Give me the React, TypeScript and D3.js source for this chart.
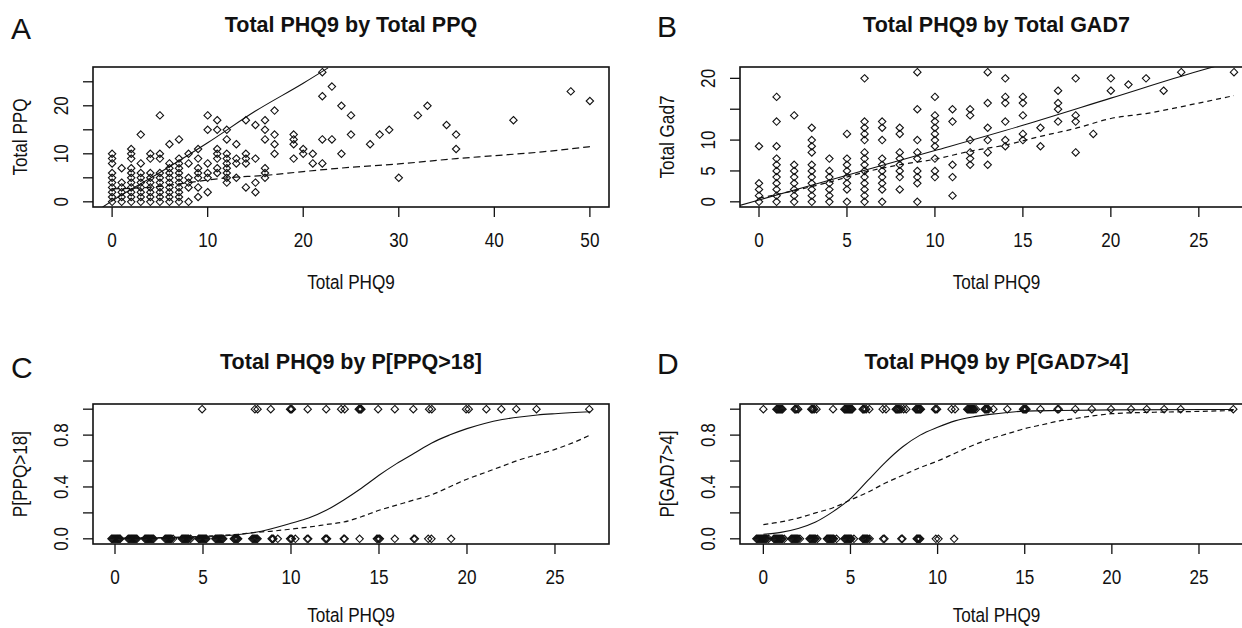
import React from 'react';
import * as d3 from 'd3';

const W = 1242;
const H = 628;
const FONT = "'Liberation Sans', Arial, Helvetica, sans-serif";

// ---------- Panel A: Total PHQ9 (x) by Total PPQ (y) ----------
const ppqByPhq: [number, number[]][] = [
  [0, [0, 1, 2, 3, 4, 5, 6, 8, 9, 10]],
  [1, [0, 1, 2, 3, 4, 7]],
  [2, [0, 1, 2, 3, 4, 5, 6, 7, 9, 10, 11]],
  [3, [0, 1, 2, 3, 4, 5, 6, 8, 14]],
  [4, [0, 1, 2, 3, 4, 5, 6, 9, 10]],
  [5, [0, 1, 2, 3, 4, 5, 6, 9, 10, 18]],
  [6, [0, 1, 2, 3, 4, 5, 6, 7, 8, 12]],
  [7, [0, 1, 2, 3, 4, 5, 6, 7, 8, 9, 13]],
  [8, [0, 3, 4, 5, 8, 10]],
  [9, [1, 3, 5, 6, 7, 9, 11]],
  [10, [2, 5, 6, 8, 15, 18]],
  [11, [6, 7, 9, 10, 11, 15, 17]],
  [12, [4, 5, 6, 7, 8, 9, 10, 13, 15]],
  [13, [5, 8, 9, 12]],
  [14, [3, 8, 9, 10, 17]],
  [15, [2, 4, 9, 16]],
  [16, [5, 6, 7, 13, 15, 17]],
  [17, [10, 12, 14, 19]],
  [19, [9, 12, 13, 14]],
  [20, [10, 11]],
  [21, [8, 10]],
  [22, [8, 13, 22, 27]],
  [23, [13, 24]],
  [24, [10, 20]],
  [25, [14, 18]],
  [27, [12]],
  [28, [14]],
  [29, [15]],
  [30, [5]],
  [32, [18]],
  [33, [20]],
  [35, [16]],
  [36, [11, 14]],
  [42, [17]],
  [48, [23]],
  [50, [21]],
];
const ppqFitSolid: [number, number][] = [
  [-1, -1.1], [0, 0.2], [5, 6.1], [10, 12.3], [15, 18.9], [20, 24.7], [22.6, 27.9],
];
const ppqFitDashed: [number, number][] = [
  [0, 2.7], [5, 3.2], [8, 4.0], [12, 5.0], [16, 5.5], [20, 6.3], [25, 7.2],
  [30, 7.9], [36, 9.0], [40, 9.6], [45, 10.4], [50, 11.5],
];
const xTicksA = [0, 10, 20, 30, 40, 50];
const yTicksA = [0, 5, 10, 15, 20, 25];
const yLabelsA = [0, 10, 20];

// ---------- Panel B: Total PHQ9 (x) by Total GAD7 (y) ----------
const gadByPhq: [number, number[]][] = [
  [0, [0, 1, 2, 3, 9]],
  [1, [0, 1, 2, 3, 4, 5, 6, 7, 9, 13, 17]],
  [2, [0, 1, 2, 3, 4, 5, 6, 14]],
  [3, [0, 1, 2, 3, 4, 5, 6, 8, 9, 10, 12]],
  [4, [0, 1, 2, 3, 4, 5, 7]],
  [5, [0, 2, 3, 4, 5, 6, 7, 11]],
  [6, [0, 1, 2, 3, 4, 5, 6, 7, 8, 10, 11, 12, 13, 20]],
  [7, [0, 2, 3, 4, 5, 6, 7, 10, 12, 13]],
  [8, [2, 4, 5, 6, 7, 8, 11, 12]],
  [9, [0, 3, 4, 5, 7, 8, 10, 15, 21]],
  [10, [4, 5, 7, 9, 10, 11, 12, 13, 14, 17]],
  [11, [1, 4, 6, 13, 15]],
  [12, [6, 7, 8, 10, 14, 15]],
  [13, [6, 8, 10, 12, 16, 21]],
  [14, [9, 10, 13, 16, 17, 20]],
  [15, [10, 11, 14, 16, 17]],
  [16, [9, 12]],
  [17, [13, 15, 16, 18]],
  [18, [8, 13, 14, 20]],
  [19, [11]],
  [20, [18, 20]],
  [21, [19]],
  [22, [20]],
  [23, [18]],
  [24, [21]],
  [27, [21]],
];
const gadFitSolid: [number, number][] = [
  [-1.1, -0.6], [0, 0.3], [5, 4.3], [10, 8.3], [15, 12.4], [20, 16.8], [25, 21.2], [26, 22],
];
const gadFitDashed: [number, number][] = [
  [0, 0.6], [2, 1.8], [4, 3.2], [6, 4.8], [8, 6.0], [10, 6.9], [12, 8.2], [14, 9.2],
  [16, 10.6], [18, 11.9], [20, 13.5], [22, 14.3], [25, 16.0], [27, 17.2],
];
const xTicksB = [0, 5, 10, 15, 20, 25];
const yTicksB = [0, 5, 10, 15, 20];
const yLabelsB = [0, 5, 10, 20];

// ---------- Panel C: Total PHQ9 by P[PPQ>18] (jittered x) ----------
const ppqHighX = [
  4.95, 7.95, 8.1, 8.85, 9.95, 10.0, 10.05, 10.95, 12.0, 12.85, 13.05,
  13.85, 13.9, 13.95, 14.0, 14.95, 15.9, 16.95, 17.85, 18.0, 19.95, 20.1,
  21.1, 21.95, 22.8, 23.95, 26.95,
];
const ppqLowX = [
  -0.2, -0.15, -0.1, -0.05, 0, 0.05, 0.1, 0.15, 0.2, 0.25, 0.3,
  0.75, 0.8, 0.85, 0.9, 0.95, 1.0, 1.05, 1.1, 1.15, 1.2, 1.25,
  1.7, 1.75, 1.8, 1.85, 1.9, 1.95, 2.0, 2.05, 2.1, 2.15, 2.2,
  2.85, 2.9, 2.95, 3.0, 3.05, 3.1, 3.15, 3.2, 3.3,
  3.8, 3.85, 3.9, 3.95, 4.0, 4.05, 4.1, 4.15, 4.2, 4.3,
  4.75, 4.8, 4.85, 4.9, 4.95, 5.0, 5.05, 5.1, 5.15, 5.2,
  5.7, 5.75, 5.8, 5.85, 5.9, 5.95, 6.0, 6.05, 6.1, 6.15,
  6.75, 6.8, 6.85, 6.9, 6.95, 7.0,
  7.8, 7.85, 7.9, 7.95, 8.0, 8.05, 8.1,
  8.9, 8.95, 9.0, 9.25,
  9.95, 10.0, 10.05, 10.25,
  10.92, 10.98,
  11.95, 12.0, 12.05,
  13.0, 13.05,
  13.9,
  14.88, 14.94, 15.0, 15.05,
  15.9,
  16.98, 17.04,
  17.8, 17.98,
  19.1,
];
const ppqProbSolid: [number, number][] = [
  [0, 0.003], [2, 0.005], [4, 0.01], [6, 0.02], [8, 0.05], [10, 0.12], [11, 0.16],
  [12, 0.22], [13, 0.3], [14, 0.39], [15, 0.49], [16, 0.58], [17, 0.66], [18, 0.74],
  [19, 0.8], [20, 0.85], [21, 0.89], [22, 0.92], [23, 0.94], [24, 0.955], [25, 0.965],
  [27, 0.98],
];
const ppqProbDashed: [number, number][] = [
  [0, 0.005], [3, 0.01], [5, 0.02], [7, 0.035], [8, 0.05], [9, 0.06], [10, 0.075],
  [11, 0.09], [12, 0.11], [13, 0.13], [14, 0.17], [15, 0.22], [16, 0.26], [17, 0.3],
  [18, 0.34], [19, 0.4], [20, 0.46], [21, 0.51], [22, 0.56], [23, 0.61], [24, 0.65],
  [25, 0.69], [26, 0.74], [27, 0.8],
];

// ---------- Panel D: Total PHQ9 by P[GAD7>4] (jittered x) ----------
const gadHighX = [
  0.0,
  0.75, 0.8, 0.85, 0.9, 0.95, 1.0, 1.05, 1.1,
  1.8, 1.85, 1.92, 2.0,
  2.75, 2.8, 2.85, 2.92, 3.05,
  4.0,
  4.65, 4.7, 4.75, 4.8, 4.85, 4.9, 4.95, 5.0, 5.05, 5.1,
  5.7, 5.75, 5.82, 5.9, 6.08,
  6.85, 7.04,
  7.6, 7.65, 7.7, 7.75, 7.82, 7.9, 8.05, 8.2,
  8.75, 8.8, 8.85, 8.9, 8.95, 9.0, 9.04,
  9.85, 9.9, 9.97,
  10.8, 11.0,
  11.7, 11.75, 11.8, 11.85, 11.9, 11.95, 12.0, 12.05, 12.1, 12.2,
  12.7, 12.75, 12.8, 12.85, 12.92, 13.2,
  14.0,
  14.9, 14.95, 15.0, 15.05, 15.1,
  15.9,
  16.88, 16.95,
  17.9, 18.85, 19.95, 21.1, 22.0, 23.0, 23.95, 26.97,
];
const gadLowX = [
  -0.4, -0.35, -0.3, -0.25, -0.2, -0.15, -0.1, -0.05, 0, 0.05, 0.1, 0.15, 0.2, 0.3,
  0.6, 0.65, 0.7, 0.75, 0.8, 0.85, 0.9, 0.95, 1.0, 1.05, 1.1, 1.2,
  1.6, 1.65, 1.7, 1.75, 1.8, 1.85, 1.9, 1.95, 2.0, 2.1,
  2.65, 2.7, 2.75, 2.8, 2.85, 2.9, 2.95, 3.0, 3.1,
  3.65, 3.7, 3.75, 3.8, 3.85, 3.9, 3.95, 4.0, 4.05, 4.2,
  4.65, 4.7, 4.75, 4.8, 4.85, 4.9, 4.95, 5.0, 5.05, 5.2,
  5.7, 5.75, 5.8, 5.85, 5.9, 5.95, 6.0, 6.1,
  6.88, 6.95,
  7.92, 7.98,
  8.8, 8.85, 8.9, 8.95, 9.0,
  9.9, 10.05,
  10.95,
];
const gadProbSolid: [number, number][] = [
  [0, 0.035], [1, 0.05], [2, 0.08], [3, 0.13], [4, 0.21], [5, 0.31], [6, 0.45],
  [7, 0.59], [8, 0.71], [9, 0.8], [10, 0.86], [11, 0.91], [12, 0.94], [13, 0.96],
  [14, 0.975], [15, 0.985], [17, 0.99], [20, 0.995], [27, 0.998],
];
const gadProbDashed: [number, number][] = [
  [0, 0.11], [1, 0.13], [2, 0.16], [3, 0.2], [4, 0.24], [5, 0.3], [6, 0.36],
  [7, 0.43], [8, 0.49], [9, 0.55], [10, 0.6], [11, 0.66], [12, 0.72], [13, 0.77],
  [14, 0.81], [15, 0.85], [16, 0.88], [17, 0.91], [18, 0.93], [19, 0.95],
  [20, 0.965], [22, 0.975], [24, 0.98], [27, 0.99],
];
const xTicksP = [0, 5, 10, 15, 20, 25];
const yTicksP = [0, 0.2, 0.4, 0.6, 0.8, 1.0];
const yLabelsP = [0, 0.4, 0.8];

type Cfg = {
  id: string;
  letter: string;
  letterX: number;
  letterY: number;
  title: string;
  xlabel: string;
  ylabel: string;
  left: number;
  right: number;
  top: number;
  bottom: number;
  xLabelGap: number;
  xDomain: [number, number];
  yDomain: [number, number];
  xTicks: number[];
  yTicks: number[];
  yLabels: number[];
  yFmt: (v: number) => string;
  points: [number, number][];
  solid: [number, number][];
  dashed: [number, number][];
  dash: string;
};

const expand = (groups: [number, number[]][]): [number, number][] =>
  groups.flatMap(([x, ys]) => ys.map((y) => [x, y] as [number, number]));

const panels: Cfg[] = [
  {
    id: 'A', letter: 'A', letterX: 11, letterY: 39,
    title: 'Total PHQ9 by Total PPQ', xlabel: 'Total PHQ9', ylabel: 'Total PPQ',
    left: 93, right: 609, top: 67, bottom: 207, xLabelGap: 82,
    xDomain: [-2, 52], yDomain: [-1.08, 28.08],
    xTicks: xTicksA, yTicks: yTicksA, yLabels: yLabelsA, yFmt: (v) => String(v),
    points: expand(ppqByPhq), solid: ppqFitSolid, dashed: ppqFitDashed, dash: '7,4',
  },
  {
    id: 'B', letter: 'B', letterX: 657, letterY: 37,
    title: 'Total PHQ9 by Total GAD7', xlabel: 'Total PHQ9', ylabel: 'Total Gad7',
    left: 740, right: 1253, top: 67, bottom: 207, xLabelGap: 82,
    xDomain: [-1.08, 28.08], yDomain: [-0.84, 21.84],
    xTicks: xTicksB, yTicks: yTicksB, yLabels: yLabelsB, yFmt: (v) => String(v),
    points: expand(gadByPhq), solid: gadFitSolid, dashed: gadFitDashed, dash: '5,4',
  },
  {
    id: 'C', letter: 'C', letterX: 11, letterY: 378,
    title: 'Total PHQ9 by P[PPQ>18]', xlabel: 'Total PHQ9', ylabel: 'P[PPQ>18]',
    left: 93, right: 609, top: 404, bottom: 544, xLabelGap: 78,
    xDomain: [-1.25, 28.07], yDomain: [-0.04, 1.04],
    xTicks: xTicksP, yTicks: yTicksP, yLabels: yLabelsP, yFmt: (v) => v.toFixed(1),
    points: [
      ...ppqHighX.map((x) => [x, 1] as [number, number]),
      ...ppqLowX.map((x) => [x, 0] as [number, number]),
    ],
    solid: ppqProbSolid, dashed: ppqProbDashed, dash: '5,3.5',
  },
  {
    id: 'D', letter: 'D', letterX: 657, letterY: 374,
    title: 'Total PHQ9 by P[GAD7>4]', xlabel: 'Total PHQ9', ylabel: 'P[GAD7>4]',
    left: 740, right: 1253, top: 404, bottom: 544, xLabelGap: 78,
    xDomain: [-1.34, 28.1], yDomain: [-0.04, 1.04],
    xTicks: xTicksP, yTicks: yTicksP, yLabels: yLabelsP, yFmt: (v) => v.toFixed(1),
    points: [
      ...gadHighX.map((x) => [x, 1] as [number, number]),
      ...gadLowX.map((x) => [x, 0] as [number, number]),
    ],
    solid: gadProbSolid, dashed: gadProbDashed, dash: '5,3.5',
  },
];

const INK = '#111';
const R = 3.7;
const TICK = 10;
const LAB = 19.5; // axis label / tick font size
const SX = 0.88; // horizontal condensation of axis text

function Panel({ c }: { c: Cfg }) {
  const x = d3.scaleLinear().domain(c.xDomain).range([c.left, c.right]);
  const y = d3.scaleLinear().domain(c.yDomain).range([c.bottom, c.top]);
  const line = d3
    .line<[number, number]>()
    .x((d) => x(d[0]))
    .y((d) => y(d[1]))
    .curve(d3.curveMonotoneX);
  const cx = (c.left + c.right) / 2;
  const cy = (c.top + c.bottom) / 2;
  const diamond = (px: number, py: number) =>
    `M${px},${py - R}L${px + R},${py}L${px},${py + R}L${px - R},${py}Z`;
  return (
    <g>
      <defs>
        <clipPath id={`clip${c.id}`}>
          <rect x={c.left} y={c.top} width={c.right - c.left} height={c.bottom - c.top} />
        </clipPath>
      </defs>
      <text x={c.letterX} y={c.letterY} fontSize={30} fontFamily={FONT} fill={INK}>
        {c.letter}
      </text>
      <text x={cx} y={c.top - 35} fontSize={21.5} fontWeight="bold" fontFamily={FONT}
        textAnchor="middle" fill={INK}>
        {c.title}
      </text>
      <g clipPath={`url(#clip${c.id})`}>
        {c.points.map((p, i) => (
          <path key={i} d={diamond(x(p[0]), y(p[1]))} fill="none" stroke={INK} strokeWidth={1.1} />
        ))}
        <path d={line(c.solid) || ''} fill="none" stroke={INK} strokeWidth={1.1} />
        <path d={line(c.dashed) || ''} fill="none" stroke={INK} strokeWidth={1.2}
          strokeDasharray={c.dash} />
      </g>
      <rect x={c.left} y={c.top} width={c.right - c.left} height={c.bottom - c.top}
        fill="none" stroke={INK} strokeWidth={1.6} />
      {c.xTicks.map((t) => (
        <g key={`x${t}`}>
          <line x1={x(t)} x2={x(t)} y1={c.bottom} y2={c.bottom + TICK} stroke={INK} strokeWidth={1.3} />
          <text transform={`translate(${x(t)},${c.bottom + 40}) scale(${SX},1)`} fontSize={LAB}
            fontFamily={FONT} textAnchor="middle" fill={INK}>
            {t}
          </text>
        </g>
      ))}
      {c.yTicks.map((t) => (
        <g key={`y${t}`}>
          <line x1={c.left - TICK} x2={c.left} y1={y(t)} y2={y(t)} stroke={INK} strokeWidth={1.3} />
          {c.yLabels.some((l) => Math.abs(l - t) < 1e-9) && (
            <text transform={`translate(${c.left - 25},${y(t)}) rotate(-90) scale(${SX},1)`}
              fontSize={LAB} fontFamily={FONT} textAnchor="middle" fill={INK}>
              {c.yFmt(t)}
            </text>
          )}
        </g>
      ))}
      <text transform={`translate(${cx},${c.bottom + c.xLabelGap}) scale(${SX},1)`} fontSize={LAB}
        fontFamily={FONT} textAnchor="middle" fill={INK}>
        {c.xlabel}
      </text>
      <text transform={`translate(${c.left - 66},${cy}) rotate(-90) scale(${SX},1)`}
        fontSize={LAB} fontFamily={FONT} textAnchor="middle" fill={INK}>
        {c.ylabel}
      </text>
    </g>
  );
}

export default function App() {
  return (
    <svg width={W} height={H} viewBox={`0 0 ${W} ${H}`}
      style={{ position: 'absolute', left: 0, top: 0, background: '#fff' }}>
      <rect x={0} y={0} width={W} height={H} fill="#fff" />
      {panels.map((c) => (
        <Panel key={c.id} c={c} />
      ))}
    </svg>
  );
}
